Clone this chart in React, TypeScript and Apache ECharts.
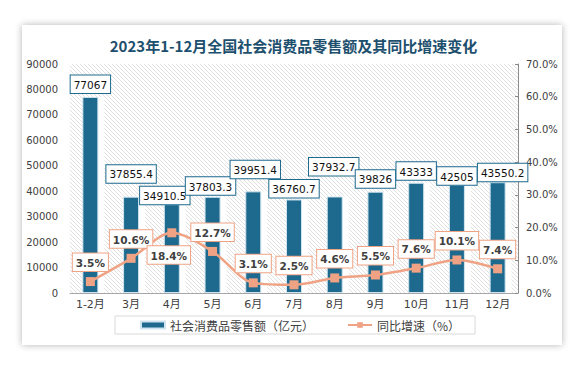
import React, { useEffect, useRef } from "react";
import * as echarts from "echarts";

const categories = ["1-2月", "3月", "4月", "5月", "6月", "7月", "8月", "9月", "10月", "11月", "12月"];
const salesValues = [77067, 37855.4, 34910.5, 37803.3, 39951.4, 36760.7, 37932.7, 39826, 43333, 42505, 43550.2];
const growthValues = [3.5, 10.6, 18.4, 12.7, 3.1, 2.5, 4.6, 5.5, 7.6, 10.1, 7.4];
const barLabelDistance = [4, 14, 0, 2, 13, 2, 21, 4, 3, 0, 1];
const barLabelShiftX = [0, 0, -7, -2, 2, 0, -1, 0, 0, 0, 5];
const title = "2023年1-12月全国社会消费品零售额及其同比增速变化";
const barName = "社会消费品零售额（亿元）";
const lineName = "同比增速（%）";

const BAR_COLOR = "#1e6a8e";
const LINE_COLOR = "#efa384";
const NUM_FONT = "DejaVu Sans, 'Noto Sans CJK SC', sans-serif";
const CJK_FONT = "'Noto Sans CJK SC', sans-serif";

function makeHatch() {
  const c = document.createElement("canvas");
  c.width = 4;
  c.height = 4;
  const ctx = c.getContext("2d")!;
  ctx.fillStyle = "#ffffff";
  ctx.fillRect(0, 0, 4, 4);
  ctx.strokeStyle = "#e0e0e0";
  ctx.lineWidth = 1;
  ctx.beginPath();
  ctx.moveTo(-1, -1);
  ctx.lineTo(5, 5);
  ctx.moveTo(-1, 3);
  ctx.lineTo(1, 5);
  ctx.moveTo(3, -1);
  ctx.lineTo(5, 1);
  ctx.stroke();
  return c;
}

export default function App() {
  const ref = useRef<HTMLDivElement>(null);
  useEffect(() => {
    document.body.style.margin = "0";
    const chart = echarts.init(ref.current!, null, { renderer: "svg" });
    const hatch = makeHatch();
    chart.setOption({
      animation: false,
      title: {
        text: title,
        left: "center",
        top: 33,
        textStyle: { fontFamily: CJK_FONT, fontSize: 15, fontWeight: "bold", color: "#1d4f6e" },
      },
      legend: {
        left: 115,
        top: 316,
        padding: [3, 15, 3, 25],
        borderColor: "#d9d9d9",
        borderWidth: 1,
        itemGap: 33,
        itemWidth: 24,
        itemHeight: 7,
        textStyle: { fontFamily: CJK_FONT, fontSize: 12, color: "#404040" },
        data: [
          { name: barName, icon: "rect" },
          { name: lineName },
        ],
      },
      grid: {
        left: 70,
        right: 69,
        top: 64,
        bottom: 72,
        show: true,
        borderWidth: 0,
        backgroundColor: { image: hatch, repeat: "repeat" },
      },
      xAxis: [
        {
          type: "category",
          data: categories,
          axisLine: { show: true, lineStyle: { color: "#a6a6a6" } },
          axisTick: { show: false },
          axisLabel: { fontFamily: NUM_FONT, fontSize: 11, color: "#404040", margin: 6 },
        },
        {
          type: "category",
          data: categories,
          show: false,
        },
      ],
      yAxis: [
        {
          type: "value",
          min: 0,
          max: 90000,
          interval: 10000,
          splitLine: { show: false },
          axisLine: { show: false },
          axisTick: { show: false },
          axisLabel: {
            fontFamily: NUM_FONT,
            fontSize: 10,
            color: "#404040",
            margin: 12,
            formatter: (v: number) => String(v),
          },
        },
        {
          type: "value",
          min: 0,
          max: 70,
          interval: 10,
          position: "right",
          splitLine: { show: false },
          axisLine: { show: true, lineStyle: { color: "#8c8c8c" } },
          axisTick: { show: true, length: 3, inside: true, lineStyle: { color: "#8c8c8c" } },
          axisLabel: {
            fontFamily: NUM_FONT,
            fontSize: 10,
            color: "#404040",
            margin: 8,
            formatter: (v: number) => v.toFixed(1) + "%",
          },
        },
      ],
      series: [
        {
          name: "spacer",
          type: "bar",
          xAxisIndex: 1,
          yAxisIndex: 0,
          barWidth: 16,
          barGap: "-25%",
          silent: true,
          itemStyle: { color: "rgba(0,0,0,0)" },
          data: salesValues,
          z: 1,
        },
        {
          name: "glow",
          type: "bar",
          xAxisIndex: 1,
          yAxisIndex: 0,
          barWidth: 16,
          silent: true,
          itemStyle: { color: "rgba(255,255,255,0.92)" },
          data: salesValues,
          z: 1,
        },
        {
          name: barName,
          type: "bar",
          barWidth: 16,
          xAxisIndex: 0,
          yAxisIndex: 0,
          z: 3,
          itemStyle: {
            color: BAR_COLOR,
            borderColor: "#cfe4ef",
            borderWidth: 1,
          },
          label: {
            show: true,
            position: "top",
            fontFamily: NUM_FONT,
            fontSize: 10.5,
            color: "#111",
            backgroundColor: "#fff",
            borderColor: BAR_COLOR,
            borderWidth: 1,
            padding: [4, 3, 3, 3],
          },
          data: salesValues.map((v, i) => ({
            value: v,
            label: { distance: barLabelDistance[i], offset: [barLabelShiftX[i], 0] },
          })),
        },
        {
          name: lineName,
          type: "line",
          yAxisIndex: 1,
          smooth: 0.3,
          symbol: "rect",
          symbolSize: 9,
          z: 5,
          lineStyle: { color: LINE_COLOR, width: 2.5 },
          itemStyle: { color: LINE_COLOR },
          label: {
            show: true,
            position: "top",
            distance: 6,
            fontFamily: NUM_FONT,
            fontSize: 10.5,
            fontWeight: "bold",
            color: "#404040",
            backgroundColor: "#fff",
            borderColor: LINE_COLOR,
            borderWidth: 1,
            padding: [4, 3, 3, 3],
            formatter: (p: any) => p.value.toFixed(1) + "%",
          },
          data: growthValues.map((v, i) =>
            i === 2
              ? { value: v, label: { position: "bottom", distance: 9, offset: [-3, 0] } }
              : { value: v }
          ),
        },
      ],
    });
    return () => chart.dispose();
  }, []);
  return (
    <div style={{ position: "relative", width: 587, height: 365, background: "#fff" }}>
      <div
        style={{
          position: "absolute",
          left: 22,
          top: 25,
          width: 540,
          height: 320,
          background: "#fff",
          boxShadow: "0 0 7px rgba(0,0,0,0.3)",
        }}
      />
      <div ref={ref} style={{ position: "absolute", left: 0, top: 0, width: 587, height: 365 }} />
    </div>
  );
}
